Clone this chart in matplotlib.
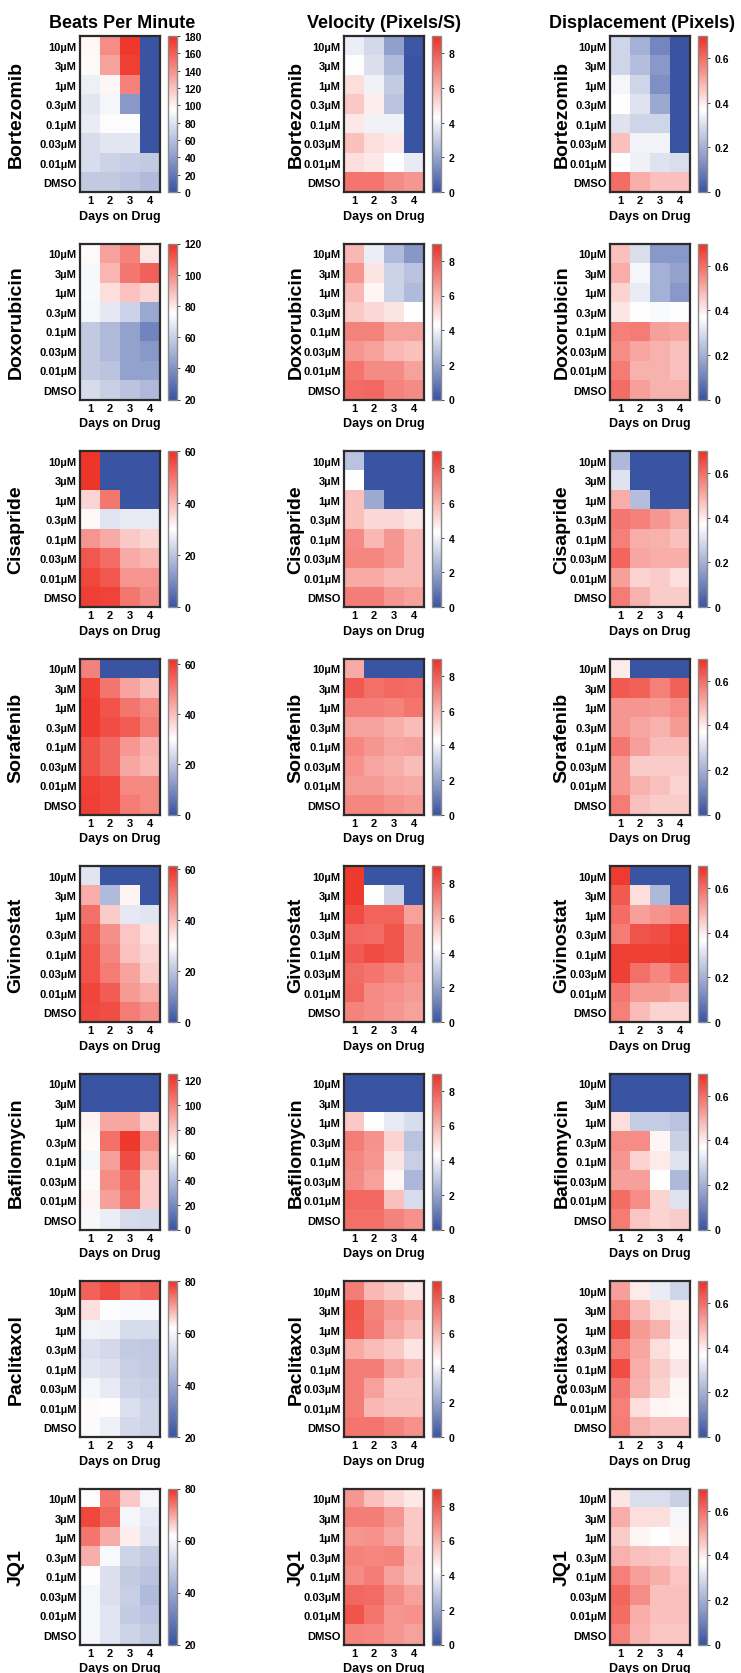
import numpy as np
import matplotlib
matplotlib.use('Agg')
import matplotlib.pyplot as plt
from matplotlib.colors import LinearSegmentedColormap, Normalize
from matplotlib.ticker import MultipleLocator, FuncFormatter

doses = ['10µM', '3µM', '1µM', '0.3µM', '0.1µM', '0.03µM', '0.01µM', 'DMSO']
days = ['1', '2', '3', '4']
drugs = ['Bortezomib', 'Doxorubicin', 'Cisapride', 'Sorafenib',
         'Givinostat', 'Bafilomycin', 'Paclitaxol', 'JQ1']
metrics = ['Beats Per Minute', 'Velocity (Pixels/S)', 'Displacement (Pixels)']

# colour scale per panel: (min, white point, max)
bpm_scales = [(0, 95, 180), (20, 75, 120), (0, 30, 60), (0, 30, 62),
              (0, 30, 61), (0, 63, 125), (20, 62, 80), (20, 62, 80)]
vel_scale = (0, 4.3, 9)
disp_scale = (0, 0.37, 0.7)

# rows = doses (10µM ... DMSO), columns = days 1-4
bortezomib_bpm = [[98, 142, 176, 0], [97, 133, 173, 0], [87, 99, 146, 0], [81, 90, 38, 0],
                  [85, 94, 94, 0], [76, 81, 81, 0], [76, 71, 68, 66], [66, 66, 62, 57]]
bortezomib_vel = [[3.9, 3.35, 1.9, 0.1], [4.3, 3.5, 2.6, 0], [5.0, 4.0, 3.0, 0], [5.5, 4.7, 2.8, 0],
                  [4.8, 4.0, 4.0, 0], [5.7, 5.0, 4.8, 0], [5.0, 4.8, 4.3, 3.8], [7.4, 7.4, 6.9, 6.65]]
bortezomib_disp = [[0.28, 0.20, 0.11, 0], [0.28, 0.23, 0.15, 0], [0.35, 0.28, 0.13, 0], [0.37, 0.31, 0.185, 0],
                   [0.31, 0.28, 0.28, 0], [0.47, 0.345, 0.345, 0], [0.37, 0.34, 0.31, 0.30], [0.60, 0.50, 0.47, 0.47]]

doxorubicin_bpm = [[76, 95, 102, 80], [73, 91, 104, 109], [73, 82, 88, 84], [72, 68, 61, 47],
                   [58, 53, 45, 36], [58, 53, 45, 42], [58, 56, 45, 45], [64, 60, 56, 53]]
doxorubicin_vel = [[5.9, 3.9, 2.6, 1.7], [6.65, 4.9, 3.2, 2.8], [5.9, 4.5, 3.2, 2.6], [5.5, 5.2, 4.9, 4.3],
                   [7.1, 7.1, 6.4, 6.4], [6.65, 6.4, 5.9, 5.7], [7.4, 6.9, 6.9, 6.4], [7.6, 7.7, 7.1, 6.9]]
doxorubicin_disp = [[0.47, 0.30, 0.15, 0.15], [0.50, 0.35, 0.20, 0.17], [0.44, 0.33, 0.20, 0.15], [0.41, 0.37, 0.36, 0.37],
                    [0.57, 0.575, 0.52, 0.51], [0.55, 0.51, 0.49, 0.47], [0.575, 0.49, 0.49, 0.47], [0.60, 0.52, 0.49, 0.49]]

cisapride_bpm = [[59, 0, 0, 0], [59, 0, 0, 0], [36, 49.5, 0, 0], [31, 25.5, 26.4, 26.4],
                 [45, 42, 37.5, 36], [54, 51, 42, 40.5], [56.4, 54, 45, 45], [57.6, 57, 49.5, 46.5]]
cisapride_vel = [[2.8, 0, 0, 0], [4.3, 0, 0, 0], [5.7, 2.15, 0, 0], [5.7, 5.2, 5.2, 4.9],
                 [6.9, 5.9, 6.65, 5.9], [7.0, 7.0, 6.65, 5.9], [6.2, 6.2, 5.9, 5.9], [7.2, 7.2, 6.65, 6.4]]
cisapride_disp = [[0.22, 0, 0, 0], [0.31, 0, 0, 0], [0.50, 0.23, 0, 0], [0.585, 0.57, 0.535, 0.50],
                  [0.57, 0.50, 0.49, 0.47], [0.61, 0.51, 0.50, 0.495], [0.52, 0.44, 0.45, 0.42], [0.575, 0.49, 0.45, 0.45]]

sorafenib_bpm = [[49, 0, 0, 0], [59, 51, 44, 40], [60, 56, 51, 48], [60, 57, 55, 50],
                 [56, 53, 46, 42], [56, 53, 43.5, 41], [59, 58, 48, 48], [59.5, 58, 50, 48]]
sorafenib_vel = [[6.2, 0, 0, 0], [8.0, 7.5, 7.7, 7.6], [7.2, 7.2, 7.1, 7.4], [6.4, 6.4, 6.1, 5.8],
                 [7.0, 6.65, 6.3, 6.4], [6.75, 6.3, 6.1, 5.8], [6.55, 6.55, 6.3, 6.2], [7.0, 7.0, 6.75, 6.55]]
sorafenib_disp = [[0.40, 0, 0, 0], [0.63, 0.62, 0.57, 0.62], [0.535, 0.535, 0.53, 0.55], [0.535, 0.51, 0.49, 0.53],
                  [0.585, 0.52, 0.475, 0.475], [0.535, 0.45, 0.45, 0.45], [0.535, 0.49, 0.47, 0.44], [0.575, 0.47, 0.45, 0.45]]

givinostat_bpm = [[25.5, 0, 0, 0], [42, 18, 31.5, 0], [51, 37.5, 26.4, 25.5], [54, 46.5, 38.4, 34.5],
                  [55.5, 48, 39, 36], [55.5, 49.5, 43.5, 37.5], [57.6, 54, 45, 42], [57, 56.4, 49.5, 46.5]]
givinostat_vel = [[8.75, 0, 0, 0], [8.75, 4.3, 3.2, 0], [8.3, 7.8, 7.8, 6.4], [7.7, 7.6, 8.1, 7.1],
                  [8.0, 8.3, 8.1, 7.1], [7.6, 7.4, 7.1, 6.75], [7.7, 6.9, 6.75, 6.55], [7.1, 6.9, 6.65, 6.4]]
givinostat_disp = [[0.68, 0, 0, 0], [0.63, 0.42, 0.22, 0], [0.60, 0.52, 0.54, 0.56], [0.575, 0.64, 0.65, 0.675],
                   [0.675, 0.675, 0.67, 0.68], [0.67, 0.595, 0.56, 0.60], [0.585, 0.53, 0.53, 0.51], [0.57, 0.475, 0.44, 0.44]]

bafilomycin_bpm = [[0, 0, 0, 0], [0, 0, 0, 0], [66, 89, 89, 77], [64, 105, 122, 97],
                   [60, 91, 116, 87], [64, 97, 108, 78.5], [66, 91, 105, 78.5], [61, 57, 50, 49]]
bafilomycin_vel = [[0, 0, 0, 0], [0, 0, 0, 0], [5.5, 4.3, 3.8, 3.45], [7.2, 6.75, 5.3, 2.8],
                   [7.0, 6.65, 4.9, 3.1], [6.9, 6.4, 4.5, 2.5], [7.7, 7.7, 5.7, 3.45], [7.5, 7.5, 7.1, 6.75]]
bafilomycin_disp = [[0, 0, 0, 0], [0, 0, 0, 0], [0.42, 0.26, 0.26, 0.24], [0.55, 0.55, 0.385, 0.27],
                    [0.535, 0.44, 0.40, 0.31], [0.52, 0.52, 0.37, 0.22], [0.60, 0.55, 0.44, 0.31], [0.575, 0.46, 0.44, 0.45]]

paclitaxol_bpm = [[75.5, 77.3, 74.6, 75.5], [64.7, 62, 60.7, 60.7], [59, 58.6, 53.6, 53.6], [54.4, 52.8, 49.4, 48.6],
                  [55.7, 54.4, 50.2, 49.4], [59.9, 57, 51.5, 50.2], [62.2, 62, 54.4, 51.5], [61.2, 58.6, 52.8, 51.5]]
paclitaxol_vel = [[7.2, 5.9, 5.5, 4.9], [8.15, 7.1, 6.55, 6.2], [8.05, 7.2, 6.3, 5.8], [6.2, 5.8, 5.5, 4.9],
                  [7.2, 7.2, 6.4, 5.9], [7.2, 6.4, 5.6, 5.6], [7.2, 5.9, 5.7, 5.7], [7.4, 7.4, 7.1, 6.75]]
paclitaxol_disp = [[0.52, 0.40, 0.33, 0.28], [0.575, 0.475, 0.42, 0.40], [0.65, 0.53, 0.49, 0.41], [0.57, 0.51, 0.42, 0.385],
                   [0.65, 0.50, 0.45, 0.41], [0.585, 0.49, 0.44, 0.385], [0.57, 0.42, 0.385, 0.38], [0.575, 0.49, 0.47, 0.47]]

jq1_bpm = [[62, 73.7, 66.5, 59.9], [77.8, 75, 59.9, 57], [73.7, 69.2, 63.4, 55.7], [68.8, 60.7, 51.5, 49.4],
           [62, 54.4, 49.4, 47.3], [59.9, 54.4, 50.2, 45.2], [59.9, 55.7, 49.4, 47.3], [59.9, 55.7, 51.5, 49.4]]
jq1_vel = [[6.65, 5.7, 5.2, 4.8], [7.2, 7.2, 6.65, 5.5], [6.65, 6.75, 6.3, 5.5], [7.1, 7.0, 7.1, 5.9],
           [6.9, 7.2, 6.4, 5.8], [7.7, 7.6, 6.9, 6.4], [8.15, 7.4, 6.65, 6.75], [7.1, 7.0, 6.65, 6.4]]
jq1_disp = [[0.41, 0.30, 0.30, 0.27], [0.50, 0.42, 0.42, 0.35], [0.45, 0.385, 0.37, 0.385], [0.49, 0.47, 0.46, 0.44],
            [0.57, 0.52, 0.495, 0.46], [0.61, 0.55, 0.47, 0.47], [0.60, 0.50, 0.47, 0.47], [0.57, 0.49, 0.46, 0.46]]

panels = [
    [bortezomib_bpm, bortezomib_vel, bortezomib_disp],
    [doxorubicin_bpm, doxorubicin_vel, doxorubicin_disp],
    [cisapride_bpm, cisapride_vel, cisapride_disp],
    [sorafenib_bpm, sorafenib_vel, sorafenib_disp],
    [givinostat_bpm, givinostat_vel, givinostat_disp],
    [bafilomycin_bpm, bafilomycin_vel, bafilomycin_disp],
    [paclitaxol_bpm, paclitaxol_vel, paclitaxol_disp],
    [jq1_bpm, jq1_vel, jq1_disp],
]

BLUE = '#3a54a4'
RED = '#ee2f24'
FONT = ['Liberation Sans', 'DejaVu Sans']
plt.rcParams['font.family'] = FONT
plt.rcParams['font.weight'] = 'bold'

W, H = 741, 1674
fig = plt.figure(figsize=(W / 100, H / 100), dpi=100)


def box(x, y, w, h):
    # pixel box (from top-left) -> figure fraction
    return [x / W, 1 - (y + h) / H, w / W, h / H]


def make_cmap(lo, mid, hi):
    f = (mid - lo) / (hi - lo)
    return LinearSegmentedColormap.from_list('bwr_prism', [(0, BLUE), (f, 'white'), (1, RED)])


fmt = FuncFormatter(lambda v, p: f'{v:g}')
col_left = [80, 344, 610]
title_x = [122, 384, 642]
label_x = [16, 296, 562]

for c, metric in enumerate(metrics):
    fig.text(title_x[c] / W, 1 - 24 / H, metric, ha='center', va='center',
             fontweight='bold', fontsize=13)

for r, drug in enumerate(drugs):
    top = 37 + 207.5 * r
    hh = 156
    for c in range(3):
        left = col_left[c]
        if c == 0:
            lo, mid, hi = bpm_scales[r]
            step = 20
        elif c == 1:
            lo, mid, hi = vel_scale
            step = 2
        else:
            lo, mid, hi = disp_scale
            step = 0.2
        data = np.array(panels[r][c], dtype=float)

        ax = fig.add_axes(box(left, top, 80, hh))
        im = ax.imshow(data, cmap=make_cmap(lo, mid, hi), norm=Normalize(lo, hi),
                       aspect='auto', interpolation='nearest')
        ax.set_xticks(range(len(days)))
        ax.set_xticklabels(days)
        ax.set_yticks(range(len(doses)))
        ax.set_yticklabels(doses)
        ax.tick_params(length=0, pad=2.5, labelsize=8)
        for s in ax.spines.values():
            s.set_linewidth(1.6)
            s.set_color('#2b2b2b')
        ax.set_xlabel('Days on Drug', fontweight='bold', fontsize=9, labelpad=3)

        cax = fig.add_axes(box(left + 88, top, 9, hh))
        cb = fig.colorbar(im, cax=cax)
        cb.outline.set_edgecolor('#8a8a8a')
        cb.outline.set_linewidth(1.0)
        cb.locator = MultipleLocator(step)
        cb.formatter = fmt
        cb.update_ticks()
        cax.tick_params(length=2.5, width=0.7, color='#444444', pad=3, labelsize=7.5)

        fig.text(label_x[c] / W, 1 - (top + hh / 2) / H, drug, rotation=90,
                 ha='center', va='center', fontweight='bold', fontsize=14)

fig.savefig('out.png', dpi=100)
